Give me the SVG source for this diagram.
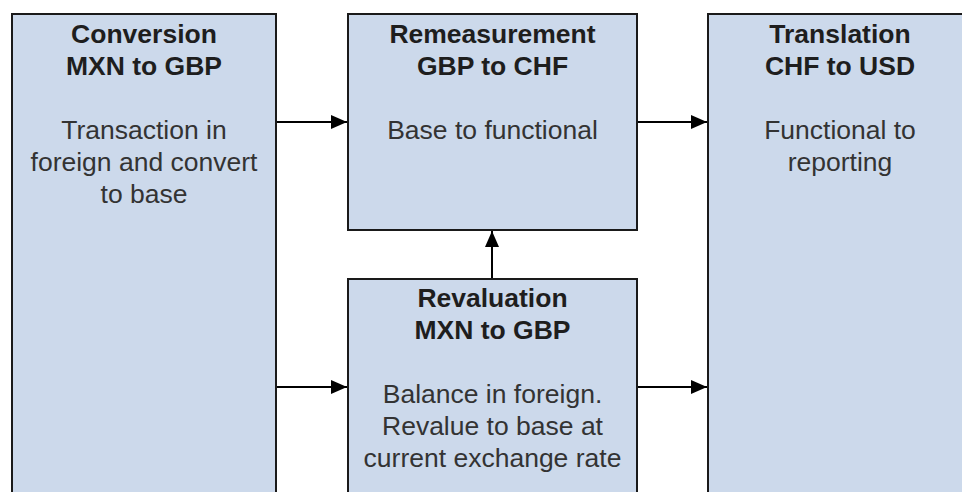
<svg xmlns="http://www.w3.org/2000/svg" width="962" height="492" viewBox="0 0 962 492">
<defs>
<style>
.box{fill:#CCD9EB;stroke:#1a1a1a;stroke-width:2}
.t{font-family:"Liberation Sans",Arial,sans-serif;font-size:26.5px;font-weight:bold;fill:#1e1e1e;text-anchor:middle}
.b{font-family:"Liberation Sans",Arial,sans-serif;font-size:26.5px;fill:#333;text-anchor:middle}
.c{fill:none;stroke:#000;stroke-width:2}
</style>
<marker id="ah" markerWidth="16" markerHeight="14" viewBox="0 0 16 14" refX="16" refY="7" orient="auto" markerUnits="userSpaceOnUse">
<path d="M0,0 L16,7 L0,14 Z" fill="#000"/>
</marker>
</defs>
<rect width="962" height="492" fill="#fff"/>
<g id="conversion">
<rect class="box" x="12" y="14" width="264" height="500"/>
<text class="t" x="144" y="43">Conversion</text>
<text class="t" x="144" y="75">MXN to GBP</text>
<text class="b" x="144" y="139">Transaction in</text>
<text class="b" x="144" y="171">foreign and convert</text>
<text class="b" x="144" y="203">to base</text>
</g>
<g id="remeasurement">
<rect class="box" x="348" y="14" width="289" height="216"/>
<text class="t" x="492.5" y="43">Remeasurement</text>
<text class="t" x="492.5" y="75">GBP to CHF</text>
<text class="b" x="492.5" y="139">Base to functional</text>
</g>
<g id="revaluation">
<rect class="box" x="348" y="279" width="289" height="240"/>
<text class="t" x="492.5" y="307">Revaluation</text>
<text class="t" x="492.5" y="339">MXN to GBP</text>
<text class="b" x="492.5" y="403">Balance in foreign.</text>
<text class="b" x="492.5" y="435">Revalue to base at</text>
<text class="b" x="492.5" y="467">current exchange rate</text>
</g>
<g id="translation">
<rect class="box" x="708" y="14" width="264" height="500"/>
<text class="t" x="840" y="43">Translation</text>
<text class="t" x="840" y="75">CHF to USD</text>
<text class="b" x="840" y="139">Functional to</text>
<text class="b" x="840" y="171">reporting</text>
</g>
<g id="connectors">
<path class="c" d="M277,122 H347" marker-end="url(#ah)"/>
<path class="c" d="M638,122 H707" marker-end="url(#ah)"/>
<path class="c" d="M492,278 V231" marker-end="url(#ah)"/>
<path class="c" d="M277,387 H347" marker-end="url(#ah)"/>
<path class="c" d="M638,387 H707" marker-end="url(#ah)"/>
</g>
</svg>
